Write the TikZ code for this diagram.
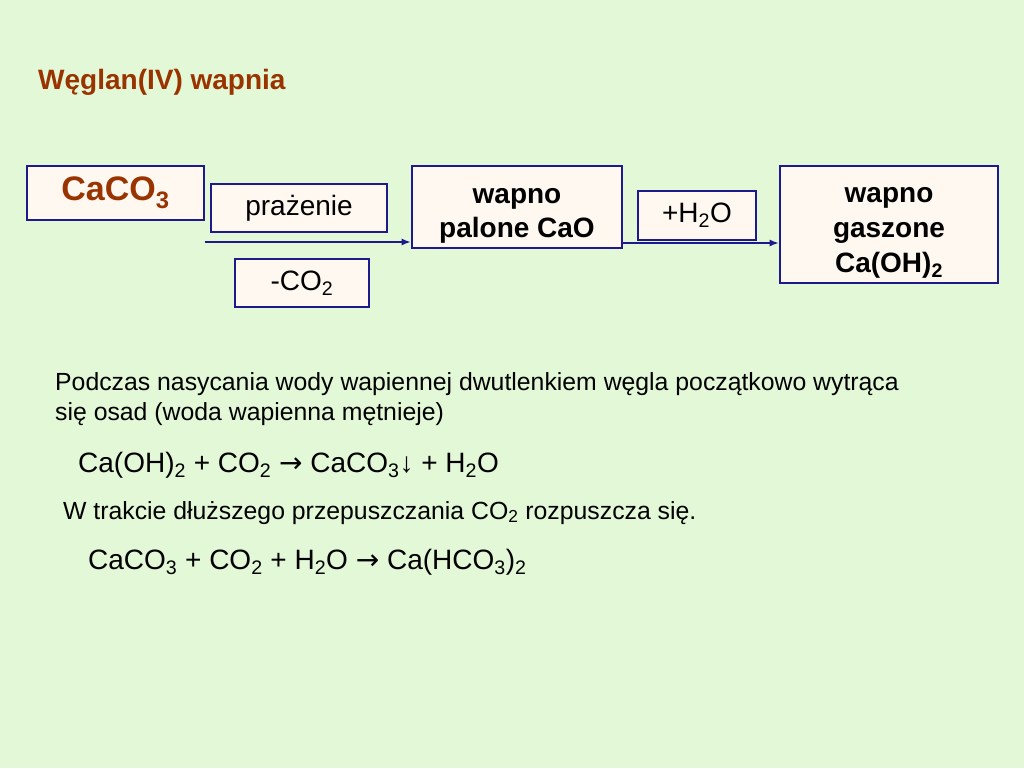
\documentclass[tikz,border=0pt]{standalone}
\usepackage{fontspec}
\setmainfont{Liberation Sans}
\newfontfamily\arrowfont{DejaVu Sans}
\usetikzlibrary{arrows.meta}
\definecolor{bggreen}{RGB}{226,248,214}
\definecolor{boxfill}{RGB}{255,248,240}
\definecolor{boxline}{RGB}{30,26,140}
\definecolor{titlebrown}{RGB}{153,51,0}
\newcommand{\sub}[1]{\textsubscript{#1}}
\newcommand{\fs}[1]{\fontsize{#1}{#1}\selectfont}
\newcommand{\rarr}{{\arrowfont →}}
\newcommand{\topgap}{\rule{0pt}{32pt}}
\begin{document}
\begin{tikzpicture}[x=1pt,y=-1pt,
  stepbox/.style={draw=boxline, line width=2.6pt, fill=boxfill, inner sep=0pt, align=center},
  flow/.style={draw=boxline, line width=1.5pt, -{Latex[length=9pt,width=7pt]}},
  txt/.style={anchor=base west, inner sep=0pt}]

  % background
  \fill[bggreen] (0,0) rectangle (1024,768);
  \useasboundingbox (0,0) rectangle (1024,768);

  \node[txt, text=titlebrown, font=\fs{28}\bfseries] (title) at (38,89) {Węglan(IV) wapnia};

  % boxes
  \node[stepbox, minimum width=177pt, minimum height=54pt, text=titlebrown, font=\fs{34}\bfseries]
       (caco) at (115.5,193) {CaCO\sub{3}};
  \node[stepbox, minimum width=176pt, minimum height=48pt, font=\fs{28}]
       (praz) at (299,208) {prażenie};
  \node[stepbox, minimum width=134pt, minimum height=48pt, font=\fs{28}]
       (co) at (302,283) {-CO\sub{2}};
  \node[stepbox, minimum width=210pt, minimum height=82pt, font=\fs{28}\bfseries]
       (cao) at (517,207) {\topgap wapno\\[6pt]palone CaO};
  \node[stepbox, minimum width=118pt, minimum height=49pt, font=\fs{28}]
       (water) at (697,215.5) {+H\sub{2}O};
  \node[stepbox, minimum width=218pt, minimum height=117pt, font=\fs{28}\bfseries]
       (caoh) at (889,224.5) {\topgap wapno\\[7pt]gaszone\\[7pt]Ca(OH)\sub{2}};

  % arrows
  \coordinate (a1) at (205,242);
  \coordinate (a2) at (622,243);
  \draw[flow] (a1) -- (a1 -| cao.west);
  \draw[flow] (a2) -- (a2 -| caoh.west);

  % text
  \node[txt, font=\fs{24.8}] (p1) at (55,390) {Podczas nasycania wody wapiennej dwutlenkiem węgla początkowo wytrąca};
  \node[txt, font=\fs{24.8}] (p2) at (55,420) {się osad (woda wapienna mętnieje)};
  \node[txt, font=\fs{28}] (eq1) at (78,472) {Ca(OH)\sub{2} + CO\sub{2} \rarr{} CaCO\sub{3}↓ + H\sub{2}O};
  \node[txt, font=\fs{24.8}] (p3) at (63,519) {W trakcie dłuższego przepuszczania CO\sub{2} rozpuszcza się.};
  \node[txt, font=\fs{28}] (eq2) at (88,569) {CaCO\sub{3} + CO\sub{2} + H\sub{2}O \rarr{} Ca(HCO\sub{3})\sub{2}};
\end{tikzpicture}
\end{document}
